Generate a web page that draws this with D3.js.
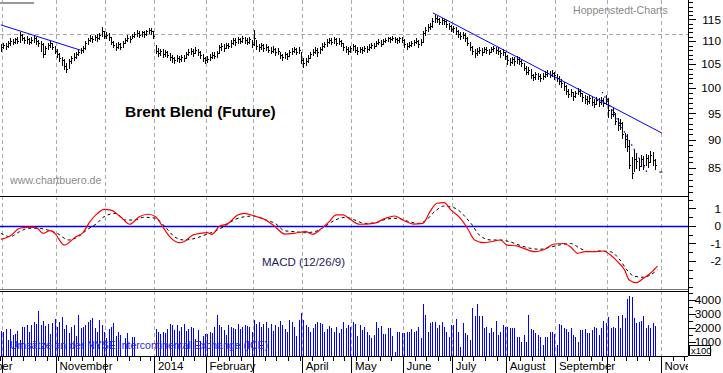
<!DOCTYPE html>
<html><head><meta charset="utf-8">
<script src="https://cdn.jsdelivr.net/npm/d3@7/dist/d3.min.js"></script>
<style>
html,body{margin:0;padding:0;background:#fff;}
svg{display:block;font-family:"Liberation Sans",Arial,Helvetica,sans-serif;}
</style></head>
<body><svg id="chart" width="723" height="373"></svg>
<script>
// ---------------- data ----------------
const closes=[108.6,109.2,108.9,109.5,110.1,109.8,110.4,110.0,111.3,110.7,
110.2,110.5,109.9,110.3,110.6,110.1,109.6,109.4,107.2,108.4,
109.1,109.5,108.8,107.9,107.1,106.3,105.8,104.5,104.0,105.6,
106.2,106.6,107.2,107.6,108.0,108.4,109.6,110.3,110.8,110.4,
111.0,110.7,111.4,112.3,111.2,111.5,110.9,109.8,109.2,108.7,
109.4,108.8,109.6,110.3,110.8,110.5,111.2,111.6,111.9,111.4,
112.0,111.7,112.2,112.6,112.3,111.2,107.9,107.4,107.8,107.2,
107.6,107.0,106.6,106.2,105.9,106.3,106.0,106.5,106.2,107.1,
107.6,107.9,107.3,108.0,107.5,106.9,106.3,105.9,106.1,106.6,
107.0,106.8,107.3,108.6,108.9,108.5,109.1,109.0,109.6,110.2,
109.8,110.4,110.1,110.6,110.3,109.9,110.5,109.4,110.6,108.9,
108.6,109.1,108.4,108.8,108.1,107.9,108.3,107.6,107.9,106.9,
106.5,107.1,106.7,107.6,107.9,108.2,107.7,108.0,105.8,105.2,
105.6,106.3,107.2,107.6,108.0,107.5,108.2,108.9,109.3,109.8,
110.2,109.9,110.4,109.7,110.1,109.5,108.8,108.2,107.8,108.4,
108.9,108.1,107.8,108.3,108.0,108.5,108.2,108.7,109.2,109.0,
109.6,109.9,109.4,110.0,110.3,110.6,110.4,110.8,110.5,110.2,
110.6,110.3,109.3,108.9,109.2,109.5,109.8,110.1,109.4,109.9,
111.8,112.6,113.1,113.4,114.6,115.3,115.1,114.3,114.8,114.5,
113.9,113.4,112.8,112.9,112.2,111.6,111.2,111.5,110.8,109.7,
108.6,107.9,107.3,107.8,108.1,107.6,108.2,108.0,107.7,108.3,
108.5,108.1,107.9,107.3,107.6,106.7,105.8,105.4,106.0,105.6,
106.1,105.7,105.2,104.1,103.4,103.7,102.6,102.2,102.8,102.4,
102.0,102.5,102.9,103.2,102.7,103.1,102.6,102.1,101.5,101.0,
100.4,99.5,98.8,99.3,98.4,98.9,99.5,99.0,98.2,97.8,
97.5,97.9,97.3,96.9,97.6,97.2,97.6,97.0,97.8,95.6,
94.8,95.3,93.6,92.8,93.2,91.0,90.2,88.9,85.5,84.2,
86.6,86.2,85.4,86.5,85.6,86.8,86.0,87.3,86.4,85.6];
const highs=[109.4,109.7,109.6,110.0,110.6,110.5,110.8,110.9,112.0,111.6,
111.0,111.1,110.8,110.9,111.2,110.9,110.3,110.0,109.5,108.9,
109.6,110.0,109.7,108.9,108.2,107.4,106.6,106.1,105.2,106.0,
106.8,107.3,107.7,108.2,108.5,108.9,110.0,110.8,111.4,111.2,
111.5,111.6,111.9,113.2,112.4,112.0,111.8,110.9,110.1,109.6,
109.9,109.7,110.1,110.7,111.3,111.2,111.7,112.1,112.5,112.2,
112.4,112.3,112.6,113.0,112.9,112.4,109.2,108.4,108.3,108.2,
108.1,107.9,107.3,106.9,106.6,106.9,106.7,107.0,107.0,107.6,
108.2,108.5,108.2,108.6,108.3,107.8,107.1,106.6,106.8,107.2,
107.6,107.5,107.8,109.2,109.6,109.3,109.6,109.7,110.3,110.8,
110.6,110.9,110.8,111.1,110.9,110.6,111.0,110.3,112.5,110.2,
109.4,109.6,109.3,109.4,108.9,108.6,108.9,108.5,108.4,107.7,
107.2,107.6,107.4,108.0,108.5,108.8,108.4,108.6,107.6,106.3,
106.4,106.9,107.7,108.2,108.6,108.4,108.8,109.5,109.9,110.4,
110.7,110.6,110.9,110.6,110.6,110.3,109.7,109.0,108.6,109.0,
109.4,109.2,108.6,108.8,108.7,109.0,108.9,109.3,109.7,109.6,
110.1,110.4,110.2,110.5,110.8,111.0,110.9,111.2,111.0,110.8,
111.0,110.9,110.4,109.6,109.8,110.0,110.3,110.6,110.3,110.4,
112.3,113.1,113.8,114.1,115.2,116.0,115.7,115.3,115.4,115.1,
114.8,114.2,113.7,113.5,113.1,112.5,112.0,112.1,111.8,111.0,
109.9,108.9,108.2,108.4,108.7,108.4,108.7,108.6,108.3,108.8,
109.0,108.8,108.6,108.1,108.2,107.6,106.9,106.2,106.6,106.5,
106.8,106.5,106.0,105.3,104.5,104.3,103.9,103.0,103.3,103.2,
102.9,103.1,103.5,103.7,103.5,103.7,103.4,103.0,102.5,101.9,
101.2,100.6,99.8,99.9,99.2,99.4,100.1,99.8,99.1,98.6,
98.4,98.6,98.2,97.8,98.1,97.9,98.2,97.9,98.5,97.9,
95.8,96.0,95.1,94.0,93.9,93.3,91.2,91.0,90.0,87.0,
88.2,87.4,86.8,87.3,87.1,87.4,87.2,88.0,87.8,86.5];
const lows=[107.9,108.4,108.3,108.7,109.2,109.3,109.6,109.5,109.8,110.2,
109.6,109.7,109.3,109.5,109.8,109.4,108.9,107.8,106.6,107.1,
108.2,108.7,108.2,107.4,106.5,105.6,104.9,104.0,103.3,104.2,
105.3,105.8,106.4,106.9,107.3,107.7,108.3,109.4,110.0,109.9,
110.2,110.1,110.5,111.2,110.8,110.7,110.3,109.4,108.6,108.0,
108.5,108.2,108.6,109.5,110.0,109.9,110.6,110.9,111.2,110.9,
111.2,111.0,111.5,111.8,111.6,110.8,107.4,106.8,107.0,106.6,
106.8,106.5,105.9,105.5,105.3,105.6,105.4,105.7,105.6,106.2,
106.9,107.2,106.8,107.3,106.9,106.2,105.6,105.3,105.4,105.9,
106.3,106.2,106.6,107.4,108.1,107.9,108.4,108.4,108.8,109.4,
109.2,109.6,109.5,109.9,109.7,109.3,109.6,108.8,109.2,108.3,
107.9,108.3,107.9,108.1,107.5,107.3,107.6,107.0,107.2,106.2,
105.9,106.3,106.1,106.8,107.2,107.5,107.1,107.3,105.3,104.4,
104.8,105.4,106.2,106.9,107.3,106.8,107.4,108.0,108.6,109.0,
109.5,109.3,109.6,109.2,109.4,108.9,108.1,107.5,107.2,107.6,
108.1,107.6,107.2,107.6,107.4,107.8,107.6,108.0,108.5,108.4,
108.9,109.3,108.9,109.4,109.8,110.0,109.9,110.2,109.9,109.6,
109.9,109.8,108.8,108.3,108.6,108.9,109.2,109.5,108.8,109.2,
109.8,111.5,112.3,112.7,113.3,114.4,114.3,113.8,113.9,113.8,
113.2,112.8,112.2,112.1,111.6,111.0,110.5,110.7,110.1,109.2,
108.0,107.2,106.6,107.0,107.4,107.0,107.5,107.4,107.1,107.6,
107.8,107.4,107.2,106.6,106.9,106.0,105.1,104.7,105.2,104.9,
105.3,105.0,104.6,103.7,102.9,102.8,102.0,101.6,101.9,101.8,
101.5,101.8,102.2,102.5,102.2,102.4,101.9,101.4,100.8,100.3,
99.7,98.7,98.1,98.4,97.6,98.2,98.7,98.3,97.4,97.0,
96.8,97.1,96.6,96.2,96.8,96.5,96.9,96.4,96.9,94.3,
94.0,94.4,93.0,91.8,92.0,90.3,88.7,88.0,85.0,83.3,
84.5,85.0,84.6,85.3,84.8,85.6,85.2,86.0,85.5,84.9];
const volumes=[1800,1700,1950,1150,1950,1500,1550,1800,1150,2050,
2100,2250,1750,2200,2400,2300,3200,2200,2500,2150,
2300,1600,2350,2650,2050,2400,2800,1950,2250,1650,
2050,2250,1400,2950,2000,2050,2250,2400,2600,2700,
2000,1700,2600,2250,1750,1300,1950,2100,2350,1450,
1750,1500,0,1300,1650,0,1350,1350,0,0,
0,0,0,0,0,0,1900,1700,1600,1750,
1650,1950,2300,2200,1850,2200,1800,2050,2300,1800,
1900,2100,2000,1250,1850,1100,1400,1550,1600,1700,
1650,2100,2950,2200,2100,1850,1500,2250,2050,2000,
1950,2300,1900,2100,2250,2150,2050,1700,2600,2300,
2400,2050,2300,2400,2000,2300,1800,2250,2100,2500,
2200,1950,1750,2600,2450,2100,1450,2600,3050,2600,
2200,2100,1750,2000,2300,2400,2350,2300,1700,1900,
2150,2000,1700,2100,1650,1950,2400,2000,2250,2050,
2450,2300,1400,2200,
1860,2050,1750,1500,1260,1500,2450,2020,2160,1550,
1550,1970,1970,1450,310,1740,1740,1620,1620,1740,
1740,1930,1740,1790,2100,1310,3690,2900,1740,2330,
2400,2450,1980,2210,2450,2100,1740,1330,2210,2210,
2640,1740,670,2330,1620,1500,1140,3450,2860,3710,
2860,2860,2030,2100,1620,2030,1740,2500,1500,1740,
2210,2100,2100,1980,1980,1980,1380,1380,1020,1500,
1020,2930,1930,1860,1620,1500,1380,800,1380,1380,
1740,1740,1550,790,2300,2210,1980,1930,1740,1980,
1500,1380,1020,1860,1860,1930,1620,1620,1860,
2100,1980,1500,1980,2500,2380,2760,1980,2100,
1980,2880,2000,2900,2690,4070,4310,4190,2690,2380,
2450,2500,2880,1980,2210,1980,2330,2140];
const macdDays=[0,4,8,11,15,18,21,23,27,32,35,38,41,44,47,51,55,59,63,66,69,72,76,78,82,85,88,90,93,97,101,104,108,113,117,121,125,130,133,136,140,143,146,149,153,159,164,168,172,176,180,183,186,189,192,196,199,202,206,209,213,216,220,223,228,232,236,240,243,246,249,253,257,260,263,266,268,271,274,277,280];
const macdValues=[-0.76,-0.57,-0.13,-0.08,-0.08,-0.42,-0.27,-0.42,-1.09,-0.61,-0.38,0.25,0.69,0.95,0.91,0.53,0.10,0.53,0.67,0.53,-0.04,-0.61,-0.95,-0.9,-0.51,-0.42,-0.38,-0.48,-0.04,0.15,0.63,0.72,0.57,0.34,-0.04,-0.46,-0.42,-0.32,-0.48,-0.23,0.25,0.63,0.63,0.38,0.1,0.15,0.44,0.57,0.3,0.11,0.15,0.82,1.3,1.33,0.91,0.44,-0.13,-0.8,-0.95,-0.9,-0.8,-1.09,-1.14,-1.28,-1.47,-1.33,-1.03,-1.0,-1.2,-1.56,-1.47,-1.47,-1.43,-1.66,-2.04,-2.51,-3.09,-3.24,-2.99,-2.7,-2.29];
const signalDays=[0,4,8,12,16,20,24,29,33,37,41,44,49,53,57,61,66,70,74,78,83,87,91,95,100,104,108,113,117,121,125,130,134,138,142,147,151,155,160,164,169,174,178,181,185,189,194,198,201,204,209,213,217,221,226,230,234,238,243,247,251,255,260,264,267,270,274,277,280];
const signalValues=[-0.42,-0.61,-0.32,-0.13,-0.13,-0.23,-0.42,-0.8,-0.61,-0.19,0.15,0.53,0.72,0.34,0.34,0.5,0.44,-0.04,-0.61,-0.8,-0.7,-0.51,-0.32,-0.04,0.38,0.53,0.57,0.34,0.15,-0.27,-0.32,-0.38,-0.32,-0.04,0.3,0.5,0.34,0.15,0.19,0.38,0.44,0.25,0.15,0.3,0.82,1.14,1.0,0.53,0.06,-0.51,-0.8,-0.8,-0.9,-1.09,-1.28,-1.33,-1.22,-1.09,-1.0,-1.28,-1.47,-1.43,-1.47,-1.94,-2.51,-2.86,-2.93,-2.8,-2.51];
const trendDays=[[0,34],[184.3,281.9]];
const trendPrices=[[113.7,108.0],[116.5,91.26]];
const steepTrendDays=[256.4,275.5];
const steepTrendPrices=[99.2,84.3];
const resistanceLevel=111.7;
const priceTicks=[85,90,95,100,105,110,115];
const macdTicks=[1,0,-1,-2];
const volumeTicks=[1000,2000,3000,4000];
const holidays=["2013-12-25","2014-01-01","2014-04-18"];
const firstDay="2013-09-30";

// ---------------- layout ----------------
const svg=d3.select("#chart");
const plotRight=688;
const n=closes.length;
const step=2.345, xStart=0.83;
const x=d3.scaleLinear().domain([0,n-1]).range([xStart,xStart+step*(n-1)]);
const yP=d3.scaleLog().domain([80.3,119.6]).range([196,0]);
const yM=d3.scaleLinear().domain([-3.6,1.714]).range([289,196]);
const yV=d3.scaleLinear().domain([0,4643]).range([356,291]);
const FONT='"Liberation Sans",Arial,Helvetica,sans-serif';

// trading calendar
const fmt=d3.timeFormat("%Y-%m-%d");
const allDays=d3.timeDay.range(new Date(2013,8,2),new Date(2014,10,29))
  .filter(d=>d.getDay()%6!==0 && !holidays.includes(fmt(d)));
const offset=allDays.findIndex(d=>fmt(d)===firstDay);
const monthStarts=[], weekStarts=[];
allDays.forEach((d,k)=>{
  if(k===0||d.getMonth()!==allDays[k-1].getMonth()) monthStarts.push({date:d,day:k-offset});
  if(k===0||+d3.timeMonday.floor(d)!==+d3.timeMonday.floor(allDays[k-1])) weekStarts.push(k-offset);
});

const defs=svg.append("defs");
function clip(id,x0,y0,x1,y1){defs.append("clipPath").attr("id",id).append("rect").attr("x",x0).attr("y",y0).attr("width",x1-x0).attr("height",y1-y0);}
clip("cp",0,0,plotRight,196); clip("cm",0,196,plotRight,289); clip("cv",0,291,plotRight,356); clip("cx",0,356,plotRight,373);

// grid lines
const gx=d=>Math.round(x(d-0.5))+0.5;
[[0,196,"#b0a3b8","cp"],[196,289,"#a3b3a3","cm"],[291,356,"#b0a3b8","cv"]].forEach(([y0,y1,c,cp])=>{
  svg.append("g").attr("clip-path",`url(#${cp})`).selectAll("line").data(monthStarts).join("line")
    .attr("x1",d=>gx(d.day)).attr("x2",d=>gx(d.day)).attr("y1",y0).attr("y2",y1)
    .attr("stroke",c).attr("stroke-dasharray","4,3").attr("shape-rendering","crispEdges");
});
svg.append("line").attr("x1",0).attr("x2",plotRight).attr("y1",Math.round(yP(resistanceLevel))+0.5).attr("y2",Math.round(yP(resistanceLevel))+0.5)
  .attr("stroke","#b0a3b8").attr("stroke-dasharray","4,3").attr("shape-rendering","crispEdges");

// texts in main panel
svg.append("rect").attr("x",0).attr("y",2).attr("width",34).attr("height",2).attr("fill","#999");
svg.append("text").attr("x",573).attr("y",14).attr("font-size",10.6).attr("fill","#8a8a8a").text("Hoppenstedt-Charts");
svg.append("text").attr("x",125).attr("y",116.5).attr("font-size",15.5).attr("font-weight","bold").attr("fill","#000").text("Brent Blend (Future)");
svg.append("text").attr("x",10).attr("y",184).attr("font-size",10.7).attr("fill","#8c8c8c").text("www.chartbuero.de");

// price bars
const pb=svg.append("g").attr("clip-path","url(#cp)").attr("stroke","#000").attr("shape-rendering","crispEdges");
const idx=d3.range(n);
pb.selectAll("line.hl").data(idx).join("line").attr("class","hl")
  .attr("x1",i=>Math.round(x(i))+0.5).attr("x2",i=>Math.round(x(i))+0.5)
  .attr("y1",i=>Math.round(yP(highs[i]))).attr("y2",i=>Math.round(yP(lows[i]))+1);
pb.selectAll("line.cl").data(idx).join("line").attr("class","cl")
  .attr("x1",i=>Math.round(x(i))+1).attr("x2",i=>Math.round(x(i))+2)
  .attr("y1",i=>Math.round(yP(closes[i]))+0.5).attr("y2",i=>Math.round(yP(closes[i]))+0.5);

// trend lines
const tl=svg.append("g").attr("clip-path","url(#cp)");
trendDays.forEach((d,k)=>{
  tl.append("line").attr("x1",x(d[0])).attr("x2",x(d[1])).attr("y1",yP(trendPrices[k][0])).attr("y2",yP(trendPrices[k][1]))
    .attr("stroke","#0000ff").attr("stroke-width",1);
});
tl.append("line").attr("x1",x(steepTrendDays[0])).attr("x2",x(steepTrendDays[1])).attr("y1",yP(steepTrendPrices[0])).attr("y2",yP(steepTrendPrices[1]))
  .attr("stroke","#0000ff").attr("stroke-width",1.2).attr("stroke-dasharray","1.5,3.5");
tl.append("line").attr("x1",x(281.5)-1.5).attr("x2",x(281.5)+1.5).attr("y1",yP(steepTrendPrices[1])).attr("y2",yP(steepTrendPrices[1])).attr("stroke","#000");

// MACD panel
svg.append("line").attr("x1",0).attr("x2",plotRight).attr("y1",Math.round(yM(0))+0.5).attr("y2",Math.round(yM(0))+0.5).attr("stroke","#0000ff").attr("stroke-width",1.3);
const mg=svg.append("g").attr("clip-path","url(#cm)");
const ln=d3.line().x(d=>x(d[0])).y(d=>yM(d[1])).curve(d3.curveMonotoneX);
mg.append("path").attr("d",ln(signalDays.map((d,k)=>[d,signalValues[k]]))).attr("fill","none").attr("stroke","#000").attr("stroke-width",1).attr("stroke-dasharray","3,3");
mg.append("path").attr("d",ln(macdDays.map((d,k)=>[d,macdValues[k]]))).attr("fill","none").attr("stroke","#ff0000").attr("stroke-width",1.2);
svg.append("text").attr("x",262).attr("y",266).attr("font-size",11.5).attr("fill","#1c1c5c").text("MACD (12/26/9)");

// volume panel
svg.append("g").attr("clip-path","url(#cv)").attr("stroke","#0000ff").attr("shape-rendering","crispEdges")
  .selectAll("line").data(idx.filter(i=>volumes[i]>0)).join("line")
  .attr("x1",i=>Math.round(x(i))+0.5).attr("x2",i=>Math.round(x(i))+0.5)
  .attr("y1",yV(0)).attr("y2",i=>Math.round(yV(volumes[i])));
svg.append("text").attr("x",10).attr("y",349).attr("font-size",10.5).attr("fill","#2a2ad0")
  .attr("textLength",258).attr("lengthAdjust","spacing").text("Umsätze an der NYSE Intercontinental Exchange (ICE)");

// panel separators
const sep=svg.append("g").attr("shape-rendering","crispEdges");
sep.append("line").attr("x1",0).attr("x2",plotRight).attr("y1",196.5).attr("y2",196.5).attr("stroke","#000");
sep.append("line").attr("x1",0).attr("x2",plotRight).attr("y1",289.5).attr("y2",289.5).attr("stroke","#777");
sep.append("line").attr("x1",0).attr("x2",plotRight).attr("y1",291.5).attr("y2",291.5).attr("stroke","#000").attr("stroke-width",1.2);
sep.append("line").attr("x1",0).attr("x2",plotRight).attr("y1",356.5).attr("y2",356.5).attr("stroke","#000");
sep.append("line").attr("x1",plotRight+0.5).attr("x2",plotRight+0.5).attr("y1",0).attr("y2",356).attr("stroke","#000");

// right axes
function rightAxis(scale,minor,major,minorSize,fmtFn){
  const g=svg.append("g").attr("transform",`translate(${plotRight+0.5},0)`);
  g.append("g").call(d3.axisRight(scale).tickValues(minor).tickSize(minorSize).tickSizeOuter(0).tickFormat(""));
  const gm=g.append("g").call(d3.axisRight(scale).tickValues(major).tickSize(7).tickSizeOuter(0).tickFormat(fmtFn));
  g.selectAll(".domain").remove();
  g.selectAll(".tick line").attr("shape-rendering","crispEdges");
  gm.attr("font-family",FONT).attr("font-size",11.8).attr("text-anchor","end");
  gm.selectAll("text").attr("x",721-plotRight-0.5).attr("fill","#000");
  return gm;
}
rightAxis(yP,d3.range(81,120),priceTicks,4,d3.format("d"));
rightAxis(yM,d3.range(-3.5,1.6,0.5),macdTicks,4,d=>d<0?"-"+Math.abs(d):String(d));
rightAxis(yV,d3.range(500,4600,500),volumeTicks,4,d3.format("d"));
svg.append("rect").attr("x",689.5).attr("y",345.5).attr("width",21).attr("height",10).attr("fill","#fff").attr("stroke","#000");
svg.append("text").attr("x",691).attr("y",353.5).attr("font-size",9.5).attr("fill","#000").text("x100");

// bottom axis
const bx=svg.append("g").attr("clip-path","url(#cx)");
const b=bx.append("g").attr("transform","translate(0,356)");
b.append("g").call(d3.axisBottom(x).tickValues(weekStarts.map(d=>d-0.5)).tickSize(5).tickSizeOuter(0).tickFormat(""));
const mon=d3.timeFormat("%B"), yr=d3.timeFormat("%Y");
const bm=b.append("g").call(d3.axisBottom(x).tickValues(monthStarts.map(d=>d.day-0.5)).tickSize(17).tickSizeOuter(0)
  .tickFormat((v,k)=>{const d=monthStarts[k].date;return d.getMonth()===0?yr(d):mon(d);}));
b.selectAll(".domain").remove();
b.selectAll(".tick line").attr("shape-rendering","crispEdges");
bm.attr("font-family",FONT).attr("font-size",11.5).attr("text-anchor","start");
let prevEnd=-Infinity;
bm.selectAll(".tick").each(function(){
  const t=d3.select(this), tx=d3.select(this).select("text");
  tx.attr("x",3).attr("y",14).attr("dy",null).attr("fill","#000");
  const tr=t.attr("transform"); const px=+tr.match(/translate\(([-\d.]+)/)[1];
  const start=px+3, end=start+tx.node().getComputedTextLength();
  if(start<prevEnd+3) tx.remove(); else prevEnd=end;
});
</script></body></html>
